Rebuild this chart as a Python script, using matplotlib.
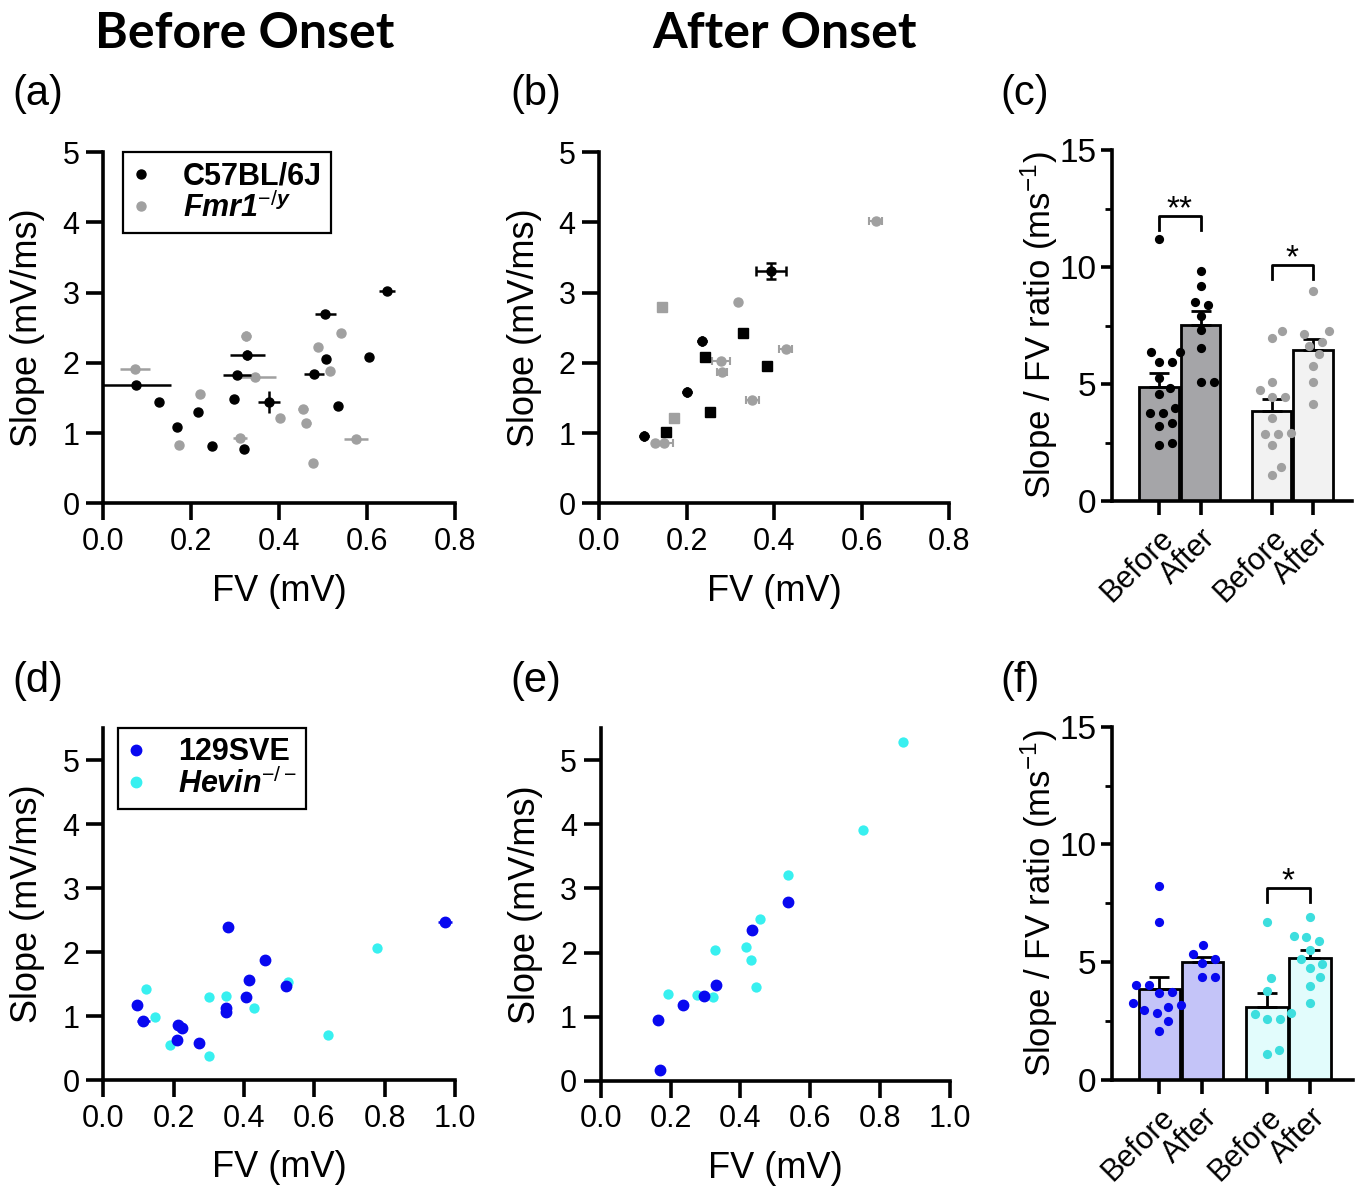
import numpy as np
import matplotlib
matplotlib.use('Agg')
import matplotlib.pyplot as plt
from matplotlib.lines import Line2D

plt.rcParams['font.family'] = ['Liberation Sans', 'DejaVu Sans']
plt.rcParams['mathtext.fontset'] = 'custom'
plt.rcParams['mathtext.rm'] = 'Liberation Sans'
plt.rcParams['mathtext.it'] = 'Liberation Sans:italic:bold'

# ---- data ----
# (a) before onset, C57BL/6J (black) and Fmr1 -/y (grey)
a_wt_x = [0.074, 0.127, 0.168, 0.216, 0.248, 0.297, 0.304, 0.328, 0.321, 0.377, 0.479, 0.505, 0.506, 0.533, 0.605, 0.645]
a_wt_y = [1.68, 1.44, 1.08, 1.30, 0.82, 1.48, 1.83, 2.11, 0.78, 1.44, 1.84, 2.70, 2.05, 1.39, 2.08, 3.03]
a_wt_xerr = [0.08, 0, 0, 0, 0, 0.008, 0.031, 0.040, 0, 0.024, 0.022, 0.024, 0, 0, 0, 0.019]
a_wt_yerr = [0, 0, 0, 0, 0, 0, 0, 0.07, 0, 0.16, 0, 0, 0, 0, 0, 0]
a_ko_x = [0.072, 0.172, 0.220, 0.324, 0.311, 0.345, 0.403, 0.455, 0.462, 0.476, 0.489, 0.515, 0.540, 0.574]
a_ko_y = [1.91, 0.83, 1.55, 2.38, 0.93, 1.80, 1.22, 1.35, 1.14, 0.58, 2.22, 1.88, 2.43, 0.91]
a_ko_xerr = [0.035, 0, 0, 0.011, 0.015, 0.047, 0, 0.011, 0.011, 0, 0, 0.008, 0, 0.027]
a_ko_yerr = [0, 0, 0, 0.07, 0, 0, 0, 0, 0, 0, 0, 0, 0, 0]

# (b) after onset
b_wt_x = [0.103, 0.200, 0.234, 0.392]
b_wt_y = [0.955, 1.58, 2.31, 3.31]
b_wt_xerr = [0, 0, 0, 0.034]
b_wt_yerr = [0, 0, 0, 0.11]
b_wt_sq_x = [0.152, 0.242, 0.253, 0.329, 0.384]
b_wt_sq_y = [1.01, 2.08, 1.30, 2.42, 1.96]
b_ko_x = [0.318, 0.127, 0.148, 0.278, 0.280, 0.350, 0.426, 0.632]
b_ko_y = [2.87, 0.855, 0.855, 2.03, 1.87, 1.47, 2.20, 4.02]
b_ko_xerr = [0, 0, 0.021, 0.021, 0.011, 0.014, 0.015, 0.015]
b_ko_sq_x = [0.143, 0.170]
b_ko_sq_y = [2.80, 1.215]

# (c) slope / FV ratio, C57BL/6J and Fmr1
c_labels = ['Before', 'After', 'Before', 'After']
c_before_wt = [11.18, 6.38, 6.38, 5.95, 5.95, 5.24, 4.84, 4.56, 3.96, 3.75, 3.75, 3.32, 3.22, 2.47, 2.39]
c_after_wt = [9.84, 9.20, 8.52, 8.38, 7.92, 7.31, 6.52, 5.07, 5.07]
c_before_ko = [7.26, 6.95, 5.10, 4.74, 4.46, 4.46, 3.53, 2.92, 2.86, 2.86, 2.39, 1.47, 1.11]
c_after_ko = [8.99, 7.26, 7.14, 6.81, 6.62, 6.27, 5.77, 5.10, 4.15]

# (d) before onset, 129SVE (blue) and Hevin -/- (cyan)
d_wt_x = [0.095, 0.114, 0.211, 0.223, 0.210, 0.273, 0.348, 0.348, 0.354, 0.406, 0.415, 0.460, 0.519, 0.972]
d_wt_y = [1.18, 0.93, 0.86, 0.81, 0.63, 0.58, 1.13, 1.07, 2.39, 1.30, 1.57, 1.88, 1.47, 2.47]
d_wt_xerr = [0, 0.019, 0, 0, 0, 0, 0, 0, 0, 0, 0.012, 0, 0, 0.019]
d_ko_x = [0.120, 0.147, 0.191, 0.300, 0.300, 0.349, 0.428, 0.526, 0.638, 0.779]
d_ko_y = [1.42, 0.98, 0.54, 1.30, 0.38, 1.32, 1.12, 1.53, 0.71, 2.07]

# (e) after onset
e_wt_x = [0.164, 0.171, 0.235, 0.296, 0.331, 0.433, 0.535]
e_wt_y = [0.94, 0.17, 1.18, 1.32, 1.49, 2.35, 2.79]
e_wt_xerr = [0, 0, 0, 0, 0.012, 0, 0]
e_ko_x = [0.192, 0.277, 0.322, 0.327, 0.416, 0.429, 0.445, 0.456, 0.535, 0.750, 0.865]
e_ko_y = [1.35, 1.34, 1.31, 2.04, 2.08, 1.89, 1.47, 2.53, 3.21, 3.91, 5.29]

# (f) slope / FV ratio, 129SVE and Hevin
f_before_wt = [8.24, 6.72, 4.03, 4.03, 3.75, 3.68, 3.26, 3.18, 3.09, 2.97, 2.83, 2.52, 2.09]
f_after_wt = [5.73, 5.35, 5.14, 4.95, 4.39, 4.39]
f_before_ko = [6.72, 4.32, 3.79, 2.86, 2.80, 2.58, 2.58, 1.27, 1.10]
f_after_ko = [6.93, 6.13, 6.09, 5.92, 5.52, 5.13, 4.93, 4.74, 4.36, 4.00, 3.26]

BLACK = 'black'
GREY = '#a0a0a0'
BLUE = '#0808f0'
CYAN = '#38f0f0'
CYAN_DARK = '#3ddede'

W, H = 1368, 1195
fig = plt.figure(figsize=(W / 100, H / 100), dpi=100)


def px_axes(l, t, r, b):
    return fig.add_axes([l / W, 1 - b / H, (r - l) / W, (b - t) / H])


def style_scatter(ax, xmax, xstep, ymax):
    for s in ['top', 'right']:
        ax.spines[s].set_visible(False)
    for s in ['left', 'bottom']:
        ax.spines[s].set_linewidth(2.6)
    ax.set_xlim(0, xmax)
    ax.set_ylim(0, ymax)
    ax.set_xticks(np.arange(0, xmax + 1e-9, xstep))
    ax.set_xticklabels([f'{v:.1f}' for v in np.arange(0, xmax + 1e-9, xstep)])
    ax.set_yticks(range(0, 6))
    ax.tick_params(length=12, width=2.6, labelsize=22, pad=5)
    ax.set_xlabel('FV (mV)', fontsize=26)
    ax.set_ylabel('Slope (mV/ms)', fontsize=26)
    ax.xaxis.set_label_coords(0.5, -0.2)
    ax.yaxis.set_label_coords(-0.165, 0.5)


def swarm(vals, ppu_x, ppu_y, d=13.0):
    # simple beeswarm: offsets in data units so dots do not overlap
    vals = np.asarray(vals, dtype=float)
    offs = np.zeros(len(vals))
    placed = []
    for i in np.argsort(vals):
        y = vals[i] * ppu_y
        cands = [0.0]
        for px, py in placed:
            dy = y - py
            if abs(dy) < d:
                dx = np.sqrt(d * d - dy * dy)
                cands += [px + dx, px - dx]
        cands.sort(key=abs)
        for c in cands:
            if all((c - px) ** 2 + (y - py) ** 2 >= d * d - 1e-6 for px, py in placed):
                break
        placed.append((c, y))
        offs[i] = c / ppu_x
    return offs


def bar_panel(ax, pos, groups, fills, dots, xlim, ppu_x, ppu_y, brackets):
    for s in ['top', 'right']:
        ax.spines[s].set_visible(False)
    for s in ['left', 'bottom']:
        ax.spines[s].set_linewidth(2.6)
    for p, vals, fc, dc in zip(pos, groups, fills, dots):
        vals = np.asarray(vals)
        m = vals.mean()
        sem = vals.std(ddof=1) / np.sqrt(len(vals))
        ax.bar(p, m, width=0.96, color=fc, edgecolor='black', linewidth=2.0, zorder=1)
        ax.errorbar(p, m, yerr=[[0], [sem]], fmt='none', ecolor='black',
                    elinewidth=2.0, capsize=7, capthick=2.0, zorder=2)
        ax.scatter(p + swarm(vals, ppu_x, ppu_y), vals, s=44, color=dc,
                   linewidths=0, zorder=3, clip_on=False)
    for x0, x1, ylo, yhi, txt in brackets:
        ax.plot([x0, x0, x1, x1], [ylo, yhi, yhi, ylo], color='black', lw=2.0)
        ax.text((x0 + x1) / 2, yhi - 0.1, txt, ha='center', va='baseline', fontsize=24)
    ax.set_xlim(*xlim)
    ax.set_ylim(0, 15)
    ax.set_yticks([0, 5, 10, 15])
    ax.set_yticks([2.5, 7.5, 12.5], minor=True)
    ax.set_xticks(pos)
    ax.set_xticklabels(c_labels, rotation=45, ha='right', va='top',
                       rotation_mode='anchor', fontsize=22)
    ax.tick_params(axis='y', which='major', length=8, width=2.6, labelsize=24, pad=3)
    ax.tick_params(axis='y', which='minor', length=5, width=2.0)
    ax.tick_params(axis='x', length=10, width=2.6, pad=6)
    ax.set_ylabel('Slope / FV ratio (ms$^{-1}$)', fontsize=25)
    ax.yaxis.set_label_coords(-0.215, 0.5)


def make_legend(ax, colors, labels, anchor_x, ms):
    h = [Line2D([], [], marker='o', ls='', color=c, ms=ms) for c in colors]
    leg = ax.legend(h, labels, loc='upper left', bbox_to_anchor=(anchor_x, 1.0),
                    borderaxespad=0, fontsize=22, handlelength=0.6, handletextpad=1.05,
                    borderpad=0.3, labelspacing=0.02, fancybox=False,
                    edgecolor='black', framealpha=1)
    leg.get_frame().set_linewidth(1.6)
    for t in leg.get_texts():
        t.set_fontweight('bold')
    leg.get_texts()[1].set_fontstyle('italic')


# ---- (a) ----
ax_a = px_axes(103.3, 152.3, 455, 503.3)
ax_a.errorbar(a_ko_x, a_ko_y, xerr=a_ko_xerr, yerr=a_ko_yerr, fmt='o', color=GREY,
              ms=6.5, elinewidth=1.8, capsize=0, zorder=2)
ax_a.errorbar(a_wt_x, a_wt_y, xerr=a_wt_xerr, yerr=a_wt_yerr, fmt='o', color=BLACK,
              ms=6.5, elinewidth=1.8, capsize=0, zorder=3)
style_scatter(ax_a, 0.8, 0.2, 5)
make_legend(ax_a, [BLACK, GREY], ['C57BL/6J', 'Fmr1$^{-/y}$'], 0.056, 6.5)

# ---- (b) ----
ax_b = px_axes(599.3, 152.3, 949.3, 503.3)
ax_b.errorbar(b_ko_x, b_ko_y, xerr=b_ko_xerr, fmt='o', color=GREY, ms=6.5,
              elinewidth=1.5, capsize=3, capthick=1.5, zorder=2)
ax_b.plot(b_ko_sq_x, b_ko_sq_y, 's', color=GREY, ms=6.5, zorder=2)
ax_b.errorbar(b_wt_x, b_wt_y, xerr=b_wt_xerr, yerr=b_wt_yerr, fmt='o', color=BLACK,
              ms=6.5, elinewidth=1.8, capsize=3.5, capthick=1.8, zorder=3)
ax_b.plot(b_wt_sq_x, b_wt_sq_y, 's', color=BLACK, ms=6.5, zorder=3)
style_scatter(ax_b, 0.8, 0.2, 5)

# ---- (c) ----
ax_c = px_axes(1111.7, 150, 1351.7, 501)
pos_c = [0, 1, 2.71, 3.71]
bar_panel(ax_c, pos_c, [c_before_wt, c_after_wt, c_before_ko, c_after_ko],
          ['#a5a5a8', '#a5a5a8', '#f2f2f2', '#f2f2f2'],
          [BLACK, BLACK, GREY, GREY], (-1.14, 4.64), 41.5, 23.4,
          [(0, 1, 11.6, 12.18, '**'), (2.71, 3.71, 9.47, 10.1, '*')])

# ---- (d) ----
ax_d = px_axes(103.3, 728.3, 455, 1080)
ax_d.scatter(d_ko_x, d_ko_y, s=55, color=CYAN, linewidths=0, zorder=2)
ax_d.errorbar(d_wt_x, d_wt_y, xerr=d_wt_xerr, fmt='o', color=BLUE, ms=7.5,
              elinewidth=1.8, capsize=0, zorder=3)
style_scatter(ax_d, 1.0, 0.2, 5.5)
make_legend(ax_d, [BLUE, CYAN], ['129SVE', 'Hevin$^{-/-}$'], 0.042, 7.5)

# ---- (e) ----
ax_e = px_axes(600.7, 728.3, 950, 1080.7)
ax_e.scatter(e_ko_x, e_ko_y, s=55, color=CYAN, linewidths=0, zorder=2)
ax_e.errorbar(e_wt_x, e_wt_y, xerr=e_wt_xerr, fmt='o', color=BLUE, ms=7.5,
              elinewidth=1.8, capsize=0, zorder=3)
style_scatter(ax_e, 1.0, 0.2, 5.5)

# ---- (f) ----
ax_f = px_axes(1111.7, 726.7, 1353.3, 1080)
pos_f = [0, 1, 2.5, 3.5]
bar_panel(ax_f, pos_f, [f_before_wt, f_after_wt, f_before_ko, f_after_ko],
          ['#c4c4f8', '#c4c4f8', '#e2fcfc', '#e2fcfc'],
          [BLUE, BLUE, CYAN_DARK, CYAN_DARK], (-1.11, 4.51), 43, 23.55,
          [(2.5, 3.5, 7.57, 8.14, '*')])

# ---- titles and panel letters ----
fig.text(245 / W, 1 - 33 / H, 'Before Onset', ha='center', va='center',
         fontsize=36, fontweight='bold', family='Lato')
fig.text(785 / W, 1 - 33 / H, 'After Onset', ha='center', va='center',
         fontsize=36, fontweight='bold', family='Lato')
for lab, x, y in [('(a)', 12, 94), ('(b)', 510, 94), ('(c)', 1000, 94),
                  ('(d)', 12, 681), ('(e)', 510, 681), ('(f)', 1000, 681)]:
    fig.text(x / W, 1 - y / H, lab, ha='left', va='center', fontsize=30)

fig.savefig('out.png', dpi=100)
